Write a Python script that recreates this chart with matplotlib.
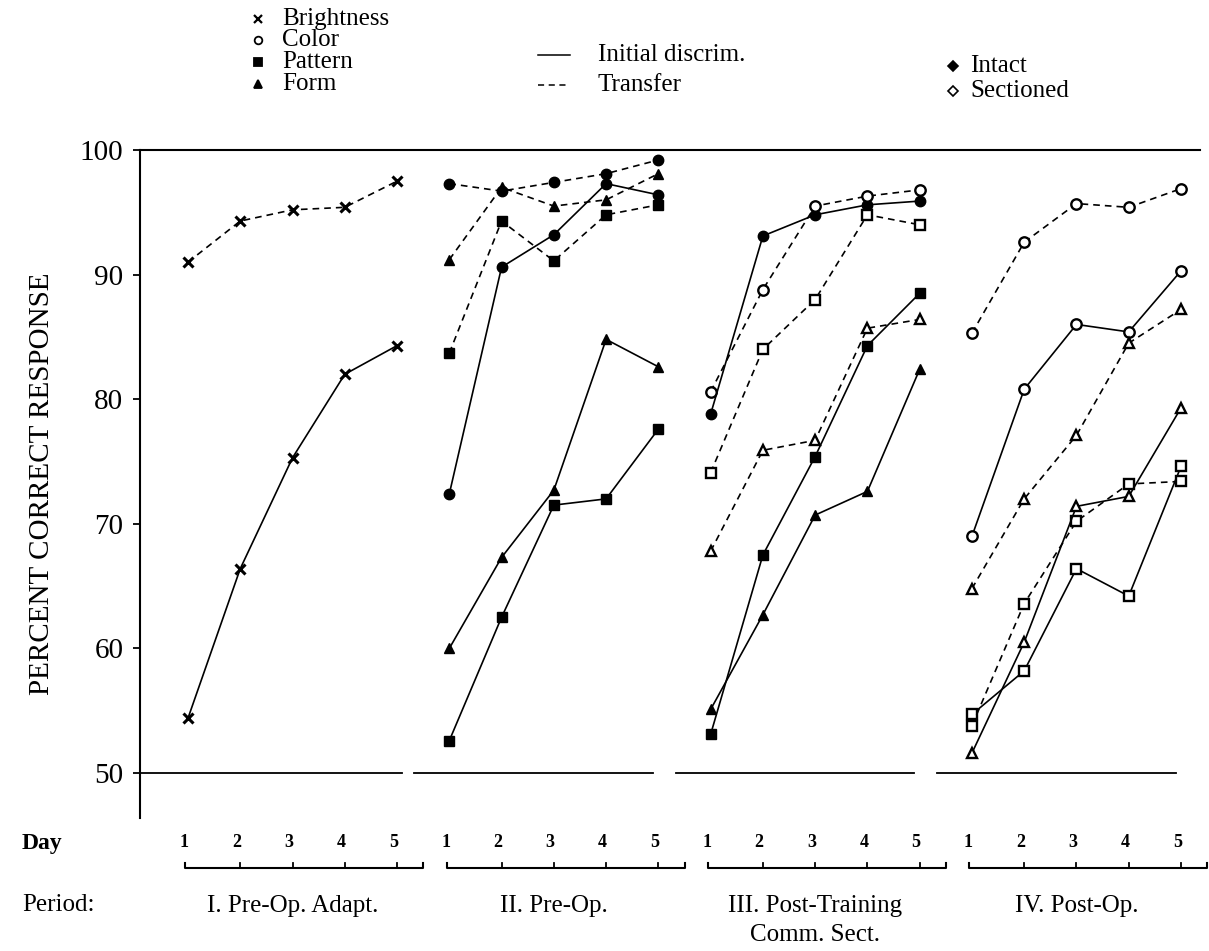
import matplotlib
matplotlib.use("Agg")
import matplotlib.pyplot as plt

plt.rcParams['font.family'] = ['Liberation Serif', 'DejaVu Serif']

# ---------------- data ----------------
days = [1, 2, 3, 4, 5]
day_labels = ["1", "2", "3", "4", "5"]
periods = ["I. Pre-Op. Adapt.", "II. Pre-Op.",
           "III. Post-Training\nComm. Sect.", "IV. Post-Op."]
yticks = [50, 60, 70, 80, 90, 100]

# Period I (Brightness)
brightness_initial_I = [54.4, 66.4, 75.3, 82.0, 84.3]
brightness_transfer_I = [91.0, 94.3, 95.2, 95.4, 97.5]

# Period II (intact)
color_initial_II = [72.4, 90.6, 93.2, 97.3, 96.4]
color_transfer_II = [97.3, 96.7, 97.4, 98.1, 99.2]
pattern_initial_II = [52.6, 62.5, 71.5, 72.0, 77.6]
pattern_transfer_II = [83.7, 94.3, 91.1, 94.8, 95.6]
form_initial_II = [60.0, 67.3, 72.7, 84.8, 82.6]
form_transfer_II = [91.2, 97.0, 95.5, 96.0, 98.1]

# Period III
color_initial_III = [78.8, 93.1, 94.8, 95.6, 95.9]      # intact
color_transfer_III = [80.6, 88.8, 95.5, 96.3, 96.8]     # sectioned
pattern_initial_III = [53.1, 67.5, 75.4, 84.3, 88.5]    # intact
pattern_transfer_III = [74.1, 84.0, 88.0, 94.8, 94.0]   # sectioned
form_initial_III = [55.1, 62.7, 70.7, 72.6, 82.4]       # intact
form_transfer_III = [67.8, 75.9, 76.7, 85.7, 86.4]      # sectioned

# Period IV (sectioned)
color_initial_IV = [69.0, 80.8, 86.0, 85.4, 90.3]
color_transfer_IV = [85.3, 92.6, 95.7, 95.4, 96.9]
pattern_initial_IV = [54.7, 58.2, 66.4, 64.2, 74.6]
pattern_transfer_IV = [53.8, 63.6, 70.2, 73.2, 73.4]
form_initial_IV = [51.6, 60.5, 71.4, 72.2, 79.3]
form_transfer_IV = [64.8, 72.0, 77.1, 84.5, 87.2]

# (period index, task, phase, condition, values)
series = [
    (0, "Brightness", "Initial", "Intact", brightness_initial_I),
    (0, "Brightness", "Transfer", "Intact", brightness_transfer_I),
    (1, "Color", "Initial", "Intact", color_initial_II),
    (1, "Color", "Transfer", "Intact", color_transfer_II),
    (1, "Pattern", "Initial", "Intact", pattern_initial_II),
    (1, "Pattern", "Transfer", "Intact", pattern_transfer_II),
    (1, "Form", "Initial", "Intact", form_initial_II),
    (1, "Form", "Transfer", "Intact", form_transfer_II),
    (2, "Color", "Initial", "Intact", color_initial_III),
    (2, "Color", "Transfer", "Sectioned", color_transfer_III),
    (2, "Pattern", "Initial", "Intact", pattern_initial_III),
    (2, "Pattern", "Transfer", "Sectioned", pattern_transfer_III),
    (2, "Form", "Initial", "Intact", form_initial_III),
    (2, "Form", "Transfer", "Sectioned", form_transfer_III),
    (3, "Color", "Initial", "Sectioned", color_initial_IV),
    (3, "Color", "Transfer", "Sectioned", color_transfer_IV),
    (3, "Pattern", "Initial", "Sectioned", pattern_initial_IV),
    (3, "Pattern", "Transfer", "Sectioned", pattern_transfer_IV),
    (3, "Form", "Initial", "Sectioned", form_initial_IV),
    (3, "Form", "Transfer", "Sectioned", form_transfer_IV),
]

# ---------------- styles ----------------
PERIOD_STEP = 5
task_marker = {"Brightness": "x", "Color": "o", "Pattern": "s", "Form": "^"}
task_size = {"Brightness": 7, "Color": 7.5, "Pattern": 6.8, "Form": 7.8}
DASH = (0, (4, 3))
phase_ls = {"Initial": "-", "Transfer": DASH}

W, H = 1209, 951
fig = plt.figure(figsize=(W / 100, H / 100), dpi=100)
fig.patch.set_facecolor("white")

# main axes (pixel-based placement)
ax_l, ax_r, ax_t, ax_b = 140, 1200, 150, 818
ax = fig.add_axes([ax_l / W, 1 - ax_b / H, (ax_r - ax_l) / W, (ax_b - ax_t) / H])
px_per_x = (1181 - 188) / 19.0
px_per_y = (773 - 150) / 50.0
ax.set_xlim(1 - (188 - ax_l) / px_per_x, 20 + (ax_r - 1181) / px_per_x)
ax.set_ylim(100 - (ax_b - ax_t) / px_per_y, 100)

for p, task, phase, cond, vals in series:
    xs = [PERIOD_STEP * p + d for d in days]
    m = task_marker[task]
    if task == "Brightness":
        mfc, mew = "black", 2.2
    elif cond == "Intact":
        mfc, mew = "black", 1.0
    else:
        mfc, mew = "white", 1.7
    ax.plot(xs, vals, color="black", lw=1.2, linestyle=phase_ls[phase],
            marker=m, markersize=task_size[task], markerfacecolor=mfc,
            markeredgecolor="black", markeredgewidth=mew, zorder=3)

# spines / ticks
for s in ["right", "bottom"]:
    ax.spines[s].set_visible(False)
ax.spines["left"].set_linewidth(1.5)
ax.spines["top"].set_linewidth(1.5)
ax.set_xticks([])
ax.set_yticks(yticks)
ax.set_yticklabels([str(v) for v in yticks], fontsize=21)
ax.tick_params(axis="y", direction="out", length=5, width=1.3, pad=7)

# baseline segments at 50
xmin = ax.get_xlim()[0]
for p in range(4):
    x0 = xmin if p == 0 else PERIOD_STEP * p + 0.33
    x1 = PERIOD_STEP * p + (5.1 if p == 0 else 4.9)
    ax.plot([x0, x1], [50, 50], color="black", lw=1.3, clip_on=False)

ax.set_ylabel("PERCENT CORRECT RESPONSE", fontsize=21, labelpad=18)

# below-axis: day labels, brackets, period labels
def ypx(py):
    return 100 - (py - 150) / px_per_y

y_day = ypx(843)
y_br = ypx(868)
tick_h = 5 / px_per_y
for p in range(4):
    xs = [PERIOD_STEP * p + d for d in days]
    for x, lab in zip(xs, day_labels):
        ax.text(x - 0.07, y_day, lab, ha="center", va="center", fontsize=13,
                fontweight="bold", clip_on=False)
    left = xs[0] - 0.05
    right = xs[-1] + 0.5
    ax.plot([left, left, right, right], [y_br + tick_h, y_br, y_br, y_br + tick_h],
            color="black", lw=1.5, clip_on=False)
    for x in xs[1:]:
        ax.plot([x, x], [y_br, y_br + tick_h], color="black", lw=1.3, clip_on=False)
    ax.text(xs[2], ypx(895), periods[p], ha="center", va="top",
            fontsize=18, clip_on=False, linespacing=1.4)

fig.text(22 / W, 1 - 843 / H, "Day", ha="left", va="center", fontsize=17,
         fontweight="bold")
fig.text(22 / W, 1 - 905 / H, "Period:", ha="left", va="center", fontsize=18)

# ---------------- legend (overlay in pixel coordinates) ----------------
lg = fig.add_axes([0, 0, 1, 1])
lg.set_xlim(0, W)
lg.set_ylim(H, 0)
lg.axis("off")
lg.patch.set_visible(False)

task_rows = [("Brightness", 19), ("Color", 40), ("Pattern", 62), ("Form", 84)]
for task, yy in task_rows:
    m = task_marker[task]
    mfc = "white" if task == "Color" else "black"
    lg.plot([258], [yy], marker=m, markersize=5.5 if task != "Brightness" else 6,
            markerfacecolor=mfc, markeredgecolor="black",
            markeredgewidth=1.3 if task != "Brightness" else 1.6, linestyle="none")
    lg.text(282, yy, task, ha="left", va="center", fontsize=18)

for label, ls, yy in [("Initial discrim.", "-", 55), ("Transfer", DASH, 85)]:
    lg.plot([538, 570], [yy, yy], color="black", lw=1.1, linestyle=ls)
    lg.text(598, yy, label, ha="left", va="center", fontsize=18)

for label, mfc, yy in [("Intact", "black", 66), ("Sectioned", "white", 91)]:
    lg.plot([953], [yy], marker="D", markersize=5, markerfacecolor=mfc,
            markeredgecolor="black", markeredgewidth=1.2, linestyle="none")
    lg.text(970, yy, label, ha="left", va="center", fontsize=18)

fig.savefig("out.png", dpi=100, facecolor="white")
